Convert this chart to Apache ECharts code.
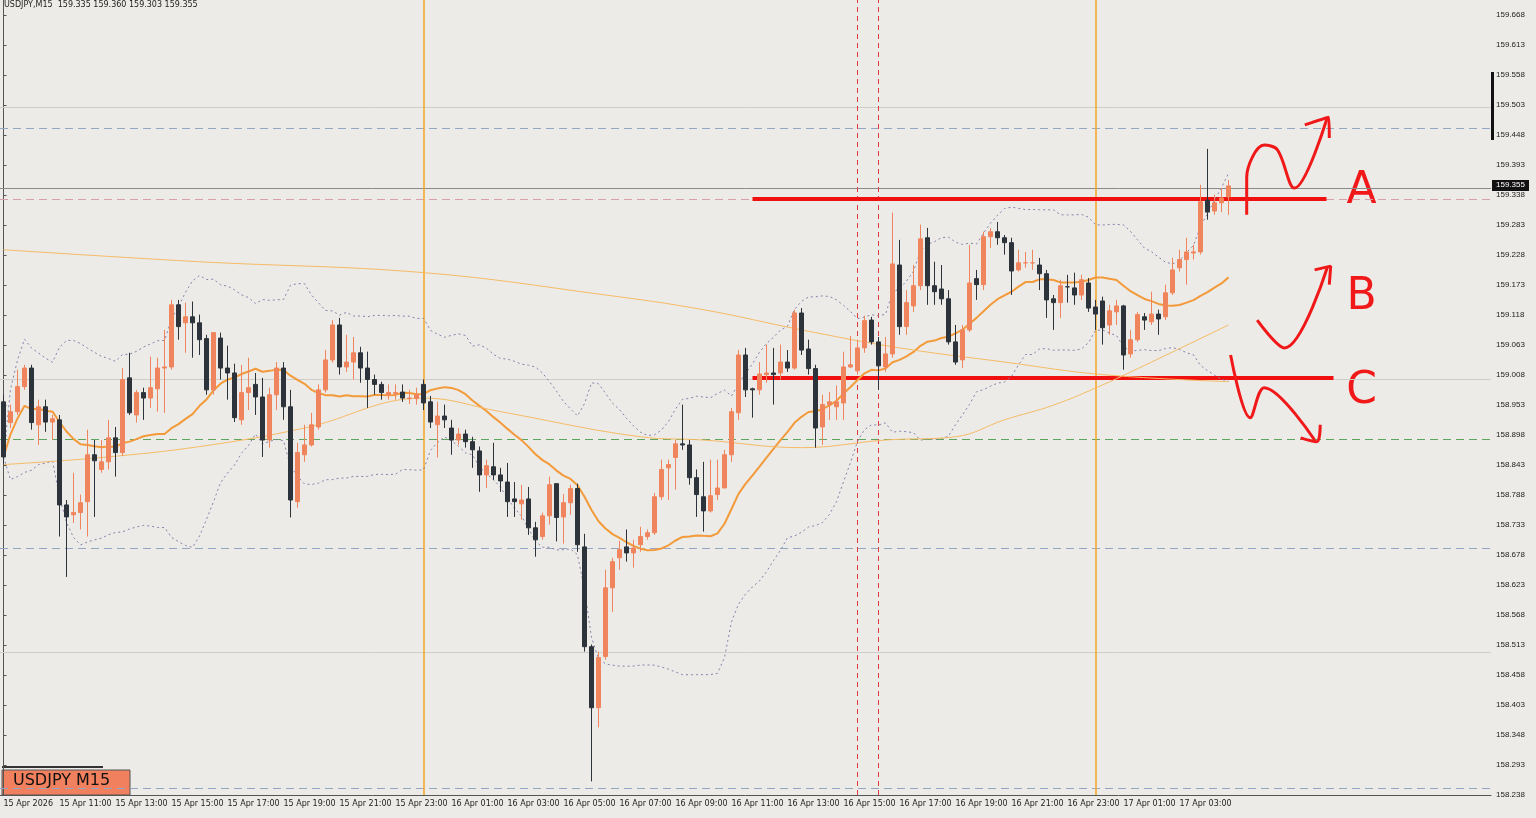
<!DOCTYPE html>
<html><head><meta charset="utf-8">
<script src="https://cdn.jsdelivr.net/npm/echarts@6/dist/echarts.min.js"></script>
<style>html,body{margin:0;padding:0;background:#ecebe7;}#c{width:1536px;height:818px;}</style>
</head><body><div id="c"></div>
<script>
const opens=[158.959,158.921,158.941,158.987,159.021,158.917,158.950,158.922,158.926,158.770,158.752,158.756,158.776,158.862,158.835,158.849,158.893,158.866,159.003,158.935,158.976,158.966,158.983,159.021,159.023,159.137,159.104,159.115,159.104,159.075,158.981,159.076,159.021,159.012,158.926,158.976,158.991,158.968,158.889,158.972,159.021,158.950,158.776,158.862,158.880,158.913,158.981,159.036,159.100,159.023,159.032,159.049,159.021,159.000,158.991,158.972,158.974,158.977,158.965,158.965,158.991,158.959,158.917,158.933,158.911,158.889,158.900,158.886,158.869,158.825,158.840,158.825,158.812,158.781,158.772,158.781,158.728,158.712,158.750,158.809,158.748,158.774,158.800,158.693,158.510,158.398,158.492,158.618,158.673,158.693,158.682,158.697,158.712,158.719,158.785,158.838,158.857,158.882,158.880,158.820,158.785,158.759,158.789,158.801,158.862,158.939,159.045,158.983,158.981,159.009,159.012,159.012,159.032,159.021,159.122,159.056,159.020,158.913,158.954,158.950,158.957,159.023,159.016,159.058,159.109,159.069,159.023,159.047,159.210,159.097,159.135,159.172,159.260,159.172,159.166,159.148,159.069,159.036,159.091,159.185,159.174,159.262,159.271,159.260,159.251,159.201,159.214,159.214,159.210,159.194,159.148,159.141,159.170,159.168,159.155,159.177,159.133,159.144,159.100,159.124,159.135,159.047,159.073,159.115,159.106,159.120,159.115,159.159,159.205,159.220,159.232,159.234,159.329,159.309,159.324,159.335];
const closes=[158.858,158.941,158.987,159.021,158.921,158.950,158.922,158.928,158.770,158.748,158.756,158.774,158.862,158.851,158.849,158.893,158.866,159.000,158.939,158.976,158.966,158.985,159.021,159.023,159.137,159.097,159.115,159.104,159.073,158.981,159.086,159.021,159.012,158.930,158.976,158.985,158.968,158.889,158.972,159.021,158.950,158.779,158.866,158.880,158.917,158.981,159.036,159.100,159.023,159.032,159.049,159.021,159.000,158.991,158.976,158.976,158.976,158.966,158.966,158.972,158.957,158.922,158.933,158.926,158.889,158.900,158.886,158.871,158.825,158.842,158.825,158.814,158.776,158.776,158.779,158.728,158.706,158.750,158.807,158.747,158.774,158.800,158.697,158.510,158.398,158.490,158.618,158.666,158.688,158.682,158.691,158.712,158.719,158.785,158.835,158.844,158.882,158.880,158.820,158.789,158.759,158.787,158.801,158.862,158.941,159.045,158.981,158.981,159.010,159.012,159.009,159.032,159.021,159.122,159.054,159.020,158.911,158.954,158.959,158.959,159.023,159.027,159.058,159.108,159.069,159.025,159.047,159.212,159.097,159.141,159.172,159.258,159.172,159.161,159.148,159.069,159.032,159.091,159.177,159.174,159.262,159.271,159.260,159.251,159.199,159.214,159.214,159.214,159.194,159.146,159.141,159.172,159.170,159.155,159.183,159.131,159.120,159.095,159.126,159.135,159.045,159.073,159.119,159.109,159.120,159.111,159.159,159.201,159.220,159.234,159.234,159.326,159.307,159.324,159.333,159.355];
const lows=[158.844,158.911,158.935,158.981,158.908,158.880,158.904,158.889,158.712,158.638,158.737,158.725,158.712,158.748,158.829,158.835,158.822,158.860,158.935,158.921,158.926,158.948,158.941,158.939,159.018,159.073,159.049,159.040,159.045,158.972,158.972,159.000,158.963,158.922,158.917,158.944,158.935,158.858,158.875,158.944,158.926,158.747,158.765,158.849,158.877,158.908,158.976,159.031,159.009,159.014,159.000,158.994,158.948,158.972,158.963,158.963,158.963,158.959,158.955,158.954,158.944,158.911,158.857,158.911,158.862,158.880,158.875,158.838,158.794,158.801,158.816,158.794,158.748,158.748,158.743,158.715,158.675,158.706,158.734,158.703,158.699,158.752,158.684,158.501,158.263,158.362,158.486,158.574,158.651,158.666,158.655,158.684,158.706,158.715,158.779,158.779,158.798,158.871,158.807,158.748,158.721,158.756,158.779,158.849,158.849,158.926,158.968,158.930,158.972,158.994,158.954,159.000,159.014,159.018,159.045,159.009,158.875,158.880,158.926,158.926,158.926,159.021,159.009,159.049,159.064,158.981,159.014,159.040,159.082,159.082,159.124,159.164,159.137,159.137,159.137,159.064,159.027,159.021,159.087,159.146,159.164,159.241,159.247,159.229,159.155,159.198,159.205,159.201,159.164,159.113,159.091,159.113,159.141,159.137,159.146,159.124,159.091,159.064,159.082,159.100,159.018,159.040,159.069,159.091,159.100,159.082,159.109,159.155,159.198,159.174,159.220,159.229,159.293,159.302,159.307,159.302];
const highs=[158.972,158.954,159.018,159.027,159.027,158.963,158.963,158.935,158.935,158.779,158.829,158.789,158.908,158.889,158.889,158.926,158.913,159.021,159.049,158.981,158.985,159.042,159.040,159.091,159.146,159.146,159.141,159.143,159.119,159.082,159.087,159.086,159.062,159.029,159.027,159.040,159.012,159.003,158.985,159.032,159.032,158.981,158.884,158.917,158.939,158.991,159.054,159.109,159.113,159.082,159.078,159.060,159.051,159.009,158.996,158.991,158.991,158.991,158.981,158.985,159.000,158.970,158.959,158.954,158.926,158.911,158.908,158.895,158.877,158.853,158.884,158.838,158.847,158.812,158.807,158.803,158.739,158.756,158.822,158.809,158.790,158.807,158.809,158.717,158.514,158.501,158.651,158.673,158.704,158.725,158.706,158.730,158.725,158.792,158.853,158.853,158.889,158.954,158.889,158.835,158.849,158.853,158.853,158.871,158.948,159.054,159.058,158.985,159.032,159.064,159.058,159.064,159.054,159.128,159.131,159.073,159.027,158.972,158.977,158.989,159.051,159.080,159.073,159.117,159.115,159.078,159.078,159.306,159.256,159.164,159.210,159.284,159.278,159.216,159.210,159.164,159.100,159.100,159.247,159.201,159.271,159.278,159.289,159.265,159.260,159.238,159.234,159.238,159.223,159.201,159.155,159.183,159.192,159.196,159.192,159.186,159.146,159.152,159.137,159.146,159.137,159.091,159.124,159.122,159.161,159.128,159.174,159.223,159.238,159.260,159.247,159.357,159.423,159.339,159.351,159.366];
// long moving averages: [bar index, price]
const maSlow=[[0,159.238],[28,159.216],[60,159.196],[86,159.155],[100,159.128],[114,159.091],[128,159.058],[143,159.032],[157,159.009],[175,158.996]];
const maMid=[[0,158.844],[14,158.857],[28,158.877],[43,158.911],[60,158.966],[71,158.941],[91,158.895],[100,158.889],[114,158.875],[126,158.889],[136,158.895],[143,158.926],[150,158.953],[157,158.990],[164,159.032],[175,159.100]];
const yTicks={min:158.238,step:0.055,count:27};
const hLevels={round:[159.5,159.0,158.5],blue:[159.456,158.686,158.246],pink:159.331,green:158.889,price:159.355};
const vOrange=[60,156], vRed=[122,125];
const lineA={from:107,to:189,price:159.331}, lineC={from:107,to:190,price:159.003};
const arrowA=[[177.6,159.302],[177.6,159.37],[180.1,159.430],[182,159.421],[184.4,159.351],[189.1,159.480]];
const headA=[[185.9,159.467],[189.3,159.481],[189.4,159.443]];
const arrowB=[[179.1,159.109],[183,159.058],[189.1,159.205]];
const headB=[[187.3,159.201],[189.6,159.208],[189.4,159.174]];
const arrowC=[[175.3,159.045],[178.1,158.930],[180.1,158.985],[187.3,158.889]];
const headC=[[185.3,158.893],[187.6,158.886],[188.1,158.917]];
const letters=[['A',194,159.345],['B',194,159.15],['C',194,158.978]];
const N=213;
const cats=[];const start=Date.UTC(2026,3,15,9,0);
const mon=['Jan','Feb','Mar','Apr','May','Jun','Jul','Aug','Sep','Oct','Nov','Dec'];
for(let i=0;i<N;i++){const d=new Date(start+i*900000);const p=n=>String(n).padStart(2,'0');
 cats.push(i===0?'15 Apr 2026':(d.getUTCDate()+' '+mon[d.getUTCMonth()]+' '+p(d.getUTCHours())+':'+p(d.getUTCMinutes())));}
const kdata=opens.map((o,i)=>[o,closes[i],lows[i],highs[i]]);
const sma=[],up=[],dn=[];
for(let i=0;i<closes.length;i++){const s=closes.slice(Math.max(0,i-19),i+1);const m=s.reduce((a,b)=>a+b,0)/s.length;
 const sd=Math.sqrt(s.reduce((a,b)=>a+(b-m)*(b-m),0)/s.length);sma.push([i,m]);up.push([i,m+2*sd]);dn.push([i,m-2*sd]);}
const ml=(v,c,t,w)=>({yAxis:v,lineStyle:{color:c,type:t,width:w}});
const mlines=[];
hLevels.round.forEach(v=>mlines.push(ml(v,'#cfcdc8','solid',1)));
hLevels.blue.forEach(v=>mlines.push(ml(v,'#93a6c4',[8,5],1.2)));
mlines.push(ml(hLevels.pink,'#d8a0a8',[8,5],1));
mlines.push(ml(hLevels.green,'#5da55d',[8,5],1));
mlines.push(ml(hLevels.price,'#8a8a8a','solid',1));
vOrange.forEach(v=>mlines.push({xAxis:v,lineStyle:{color:'#f5a623',type:'solid',width:1.5}}));
vRed.forEach(v=>mlines.push({xAxis:v,lineStyle:{color:'#e03a3a',type:[5,4],width:1}}));
[lineA,lineC].forEach(L=>mlines.push([{coord:[L.from,L.price],lineStyle:{color:'#f01010',width:4,type:'solid'}},{coord:[L.to,L.price]}]));
const red='#f01818';
const ann=(d)=>({type:'line',xAxisIndex:1,data:d,symbol:'none',smooth:0.35,lineStyle:{color:red,width:3},z:20,silent:true});
const ln=(d,c,w,t)=>({type:'line',xAxisIndex:1,data:d,symbol:'none',lineStyle:{color:c,width:w,type:t},z:5,silent:true});
const chart=echarts.init(document.getElementById('c'));
chart.setOption({animation:false,backgroundColor:'#ecebe7',
 grid:{left:0,right:45,top:0,bottom:23},
 xAxis:[{type:'category',data:cats,boundaryGap:true,axisLine:{lineStyle:{color:'#555'}},axisTick:{show:false},
   axisLabel:{interval:7,fontSize:8,color:'#222',align:'left',margin:5,fontFamily:'Tahoma, DejaVu Sans, sans-serif',
   formatter:(v,i)=>i>175?'':v}},
  {type:'value',min:-0.5,max:N-0.5,show:false}],
 yAxis:{type:'value',position:'right',min:yTicks.min,max:159.696,interval:yTicks.step,scale:true,
   axisLine:{show:true,lineStyle:{color:'#555'}},axisTick:{show:true,length:3,lineStyle:{color:'#555'}},splitLine:{show:false},
   axisLabel:{fontSize:8,color:'#222',margin:5,showMaxLabel:false,formatter:v=>v.toFixed(3)}},
 series:[
  {type:'candlestick',data:kdata,barWidth:5,z:10,
   itemStyle:{color:'#f0855d',color0:'#2c333a',borderColor:'#f0855d',borderColor0:'#2c333a',borderWidth:1},
   markLine:{symbol:'none',silent:true,label:{show:false},data:mlines}},
  ln(up,'#8880ad',1,[2,3]),ln(dn,'#8880ad',1,[2,3]),
  ln(sma,'#f39a3a',2,'solid'),
  Object.assign(ln(maSlow,'#f6bb66',1,'solid'),{smooth:0.4}),
  Object.assign(ln(maMid,'#f6bb66',1,'solid'),{smooth:0.4}),
  ann(arrowA),ann(headA),ann(arrowB),ann(headB),ann(arrowC),ann(headC)
 ]});
const pt=chart.convertToPixel({xAxisIndex:1,yAxisIndex:0},[0,hLevels.price]);
const g=[
 {type:'text',left:4,top:1,style:{text:'USDJPY,M15  159.335 159.360 159.303 159.355',fontSize:8,fill:'#222',fontFamily:'Tahoma, DejaVu Sans, sans-serif'}},
 {type:'rect',shape:{x:1492,y:pt[1]-6,width:37,height:11},style:{fill:'#111'}},
 {type:'text',x:1496,y:pt[1]-5,style:{text:hLevels.price.toFixed(3),fontSize:8,fill:'#fff'}},
 {type:'rect',shape:{x:1491,y:72,width:3,height:68},style:{fill:'#111'}},
 {type:'rect',shape:{x:2,y:766,width:101,height:2},style:{fill:'#333'}},
 {type:'rect',shape:{x:2,y:770,width:128,height:25},style:{fill:'#f0805e',stroke:'#555',lineWidth:1}},
 {type:'text',x:13,y:773,style:{text:'USDJPY M15',fontSize:16,fill:'#111',fontFamily:'Tahoma, DejaVu Sans, sans-serif'}}
];
letters.forEach(l=>{const p=chart.convertToPixel({xAxisIndex:1,yAxisIndex:0},[l[1],l[2]]);
 g.push({type:'text',x:p[0],y:p[1],style:{text:l[0],fontSize:44,fill:red,fontFamily:'DejaVu Sans, sans-serif',align:'center',verticalAlign:'middle'}});});
chart.setOption({graphic:g});
</script></body></html>
